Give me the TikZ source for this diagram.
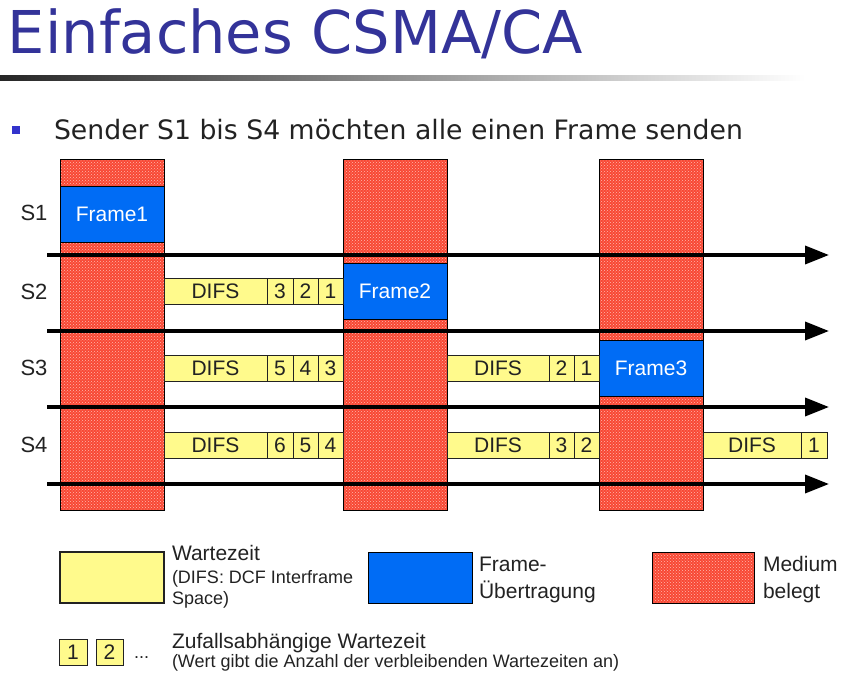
\documentclass[tikz,border=0pt]{standalone}
\usepackage{fontspec}
\setmainfont{Liberation Sans}
\newfontfamily\dvsans{DejaVu Sans}
\usetikzlibrary{arrows.meta,patterns}
\definecolor{titleblue}{RGB}{51,51,153}
\definecolor{frameblue}{RGB}{0,108,245}
\definecolor{waityellow}{RGB}{255,250,140}
\definecolor{busyred}{RGB}{248,72,52}
\definecolor{dotpink}{RGB}{255,185,175}
\definecolor{bulletblue}{RGB}{51,51,204}
\definecolor{ink}{RGB}{34,34,34}
\begin{document}
\begin{tikzpicture}[x=1pt,y=-1pt,
  every node/.style={inner sep=0pt,outer sep=0pt},
  busy/.style={draw=black,line width=1pt,preaction={fill=busyred},pattern=crosshatch dots,pattern color=dotpink,anchor=north west,minimum width=104pt},
  framebox/.style={draw=black,line width=1pt,fill=frameblue,anchor=north west,minimum width=104pt,minimum height=56pt,text=white,font=\fontsize{21}{25}\selectfont},
  wait/.style={draw=ink,line width=1pt,fill=waityellow,anchor=north west,minimum height=26pt,text=ink,font=\fontsize{21}{25}\selectfont},
  slabel/.style={text=ink,font=\fontsize{22}{26}\selectfont},
  axis/.style={line width=3.6pt,-{Triangle[length=24pt,width=18pt]}},
  legbig/.style={anchor=base west,text=ink,font=\fontsize{21}{25}\selectfont},
  legsmall/.style={anchor=base west,text=ink,font=\fontsize{18}{21}\selectfont}]
\useasboundingbox (0,0) rectangle (845,680);
% title
\node[anchor=base west,text=titleblue,font=\dvsans\fontsize{59}{70}\selectfont] (title) at (8,53) {Einfaches CSMA/CA};
\shade[left color=black!85,right color=white] (0,75) rectangle (805,80);
\fill[bulletblue] (12,126) rectangle (20,134);
\node[anchor=base west,text=ink,font=\dvsans\fontsize{26.7}{31}\selectfont] (bullettext) at (54,139) {Sender S1 bis S4 möchten alle einen Frame senden};
% medium busy
\node[busy,minimum height=351pt] (busy1) at (60,159) {};
\node[busy,minimum height=351pt] (busy2) at (343,159) {};
\node[busy,minimum height=351pt] (busy3) at (599,159) {};
% frames
\node[framebox] (frame1) at (60,186) {Frame1};
\node[framebox] (frame2) at (343,263) {Frame2};
\node[framebox] (frame3) at (599,340) {Frame3};
% S2 waits
\node[wait,minimum width=103pt] (w2a) at (164,278) {DIFS};
\node[wait,minimum width=26pt] (w2b) at (267,278) {3};
\node[wait,minimum width=25pt] (w2c) at (293,278) {2};
\node[wait,minimum width=25pt] (w2d) at (318,278) {1};
% S3 waits
\node[wait,minimum width=103pt] (w3a) at (164,355) {DIFS};
\node[wait,minimum width=26pt] (w3b) at (267,355) {5};
\node[wait,minimum width=25pt] (w3c) at (293,355) {4};
\node[wait,minimum width=25pt] (w3d) at (318,355) {3};
\node[wait,minimum width=102pt] (w3e) at (447,355) {DIFS};
\node[wait,minimum width=25pt] (w3f) at (549,355) {2};
\node[wait,minimum width=25pt] (w3g) at (574,355) {1};
% S4 waits
\node[wait,minimum width=103pt] (w4a) at (164,432) {DIFS};
\node[wait,minimum width=26pt] (w4b) at (267,432) {6};
\node[wait,minimum width=25pt] (w4c) at (293,432) {5};
\node[wait,minimum width=25pt] (w4d) at (318,432) {4};
\node[wait,minimum width=102pt] (w4e) at (447,432) {DIFS};
\node[wait,minimum width=25pt] (w4f) at (549,432) {3};
\node[wait,minimum width=25pt] (w4g) at (574,432) {2};
\node[wait,minimum width=98pt] (w4h) at (703,432) {DIFS};
\node[wait,minimum width=26pt] (w4i) at (801,432) {1};
% axes
\coordinate (ax1s) at (47,255); \coordinate (ax1e) at (829,255);
\coordinate (ax2s) at (47,331); \coordinate (ax2e) at (829,331);
\coordinate (ax3s) at (47,407); \coordinate (ax3e) at (829,407);
\coordinate (ax4s) at (47,484); \coordinate (ax4e) at (829,484);
\draw[axis] (ax1s) -- (ax1e);
\draw[axis] (ax2s) -- (ax2e);
\draw[axis] (ax3s) -- (ax3e);
\draw[axis] (ax4s) -- (ax4e);
% station labels
\node[slabel] (s1) at (34,213) {S1};
\node[slabel] (s2) at (34,292) {S2};
\node[slabel] (s3) at (34,368) {S3};
\node[slabel] (s4) at (34,445) {S4};
% legend
\node[wait,minimum width=104pt,minimum height=51pt,line width=1.2pt] (legwait) at (60,552) {};
\node[legbig] (lw1) at (172,560) {Wartezeit};
\node[legsmall] (lw2) at (172,583) {(DIFS: DCF Interframe};
\node[legsmall] (lw3) at (172,604) {Space)};
\node[framebox,minimum height=51pt] (legframe) at (368,552) {};
\node[legbig] (lf1) at (479,571) {Frame-};
\node[legbig] (lf2) at (479,598) {Übertragung};
\node[busy,minimum width=102pt,minimum height=51pt] (legbusy) at (652,552) {};
\node[legbig] (lb1) at (763,571) {Medium};
\node[legbig] (lb2) at (763,598) {belegt};
\node[wait,minimum width=28pt] (leg1) at (59,639) {1};
\node[wait,minimum width=27pt] (leg2) at (96,639) {2};
\node[legsmall] (legdots) at (134,658) {...};
\node[legbig] (lz1) at (172,648) {Zufallsabhängige Wartezeit};
\node[legsmall] (lz2) at (172,667) {(Wert gibt die Anzahl der verbleibenden Wartezeiten an)};
\end{tikzpicture}
\end{document}
